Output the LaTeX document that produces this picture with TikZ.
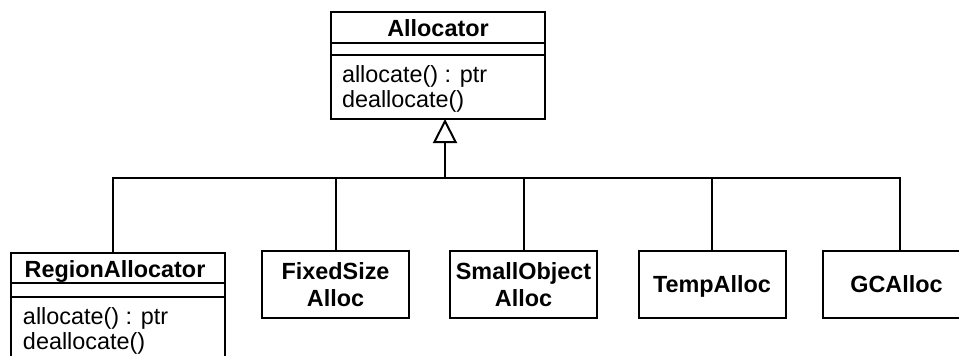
\documentclass[tikz,border=0pt]{standalone}
\usepackage{fontspec}
\setmainfont{Liberation Sans}
\usetikzlibrary{arrows.meta,calc}
\begin{document}
\begin{tikzpicture}[x=1pt,y=-1pt,line width=2pt,
  classbox/.style={draw,rectangle,inner sep=0pt,outer sep=0pt},
  classname/.style={font=\fontsize{23.4}{27}\selectfont\bfseries,inner sep=0pt,anchor=base},
  operation/.style={font=\fontsize{23.4}{25}\selectfont,inner sep=0pt,anchor=base west},
  leafclass/.style={classbox,font=\fontsize{23.4}{27}\selectfont\bfseries,align=center,
    minimum width=147pt,minimum height=67pt},
  inherit/.style={-{Triangle[open,length=24pt,width=24pt]}}
]
\useasboundingbox (0,0) rectangle (959,356);
\clip (0,0) rectangle (959,356);

% abstract base class
\node[classbox,minimum width=214pt,minimum height=107pt] (alloc) at (438,65.5) {};
\draw ($(alloc.north west)+(0,31)$) -- ($(alloc.north east)+(0,31)$);
\draw ($(alloc.north west)+(0,43)$) -- ($(alloc.north east)+(0,43)$);
\node[classname] (allocname) at (438,36.5) {Allocator};
\node[operation] (allocop1) at (341,82) {allocate() : ptr};
\node[operation] (allocop2) at (341,107) {deallocate()};

% region allocator, with its own compartments
\node[classbox,minimum width=214pt,minimum height=130pt] (region) at (118,318) {};
\draw ($(region.north west)+(0,30)$) -- ($(region.north east)+(0,30)$);
\draw ($(region.north west)+(0,44)$) -- ($(region.north east)+(0,44)$);
\node[classname] (regionname) at (115,277.5) {RegionAllocator};
\node[operation] (regionop1) at (22,324) {allocate() : ptr};
\node[operation] (regionop2) at (22,349) {deallocate()};

% the other subclasses
\node[leafclass] (fixed) at (335.5,284.5) {FixedSize\\Alloc};
\node[leafclass] (small) at (523.5,284.5) {SmallObject\\Alloc};
\node[leafclass,text depth=0pt] (temp) at (712,284.5) {TempAlloc};
\node[leafclass] (gc) at (896.5,284.5) {GCAlloc};

% generalization tree
\coordinate (hub) at (445,178);
\draw ([xshift=-5pt]region.north) |- (hub) -| ([xshift=3.5pt]gc.north);
\draw (fixed.north) -- (fixed.north |- hub);
\draw (small.north) -- (small.north |- hub);
\draw (temp.north) -- (temp.north |- hub);
\draw[inherit] (hub) -- (alloc.south -| hub);
\end{tikzpicture}
\end{document}
